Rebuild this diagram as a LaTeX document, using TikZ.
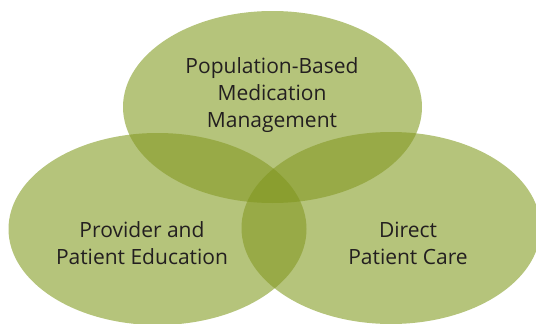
\documentclass[tikz,border=0pt]{standalone}
\usepackage{fontspec}
\setmainfont{Open Sans}
\definecolor{vsingle}{HTML}{B5C47B}
\definecolor{vdouble}{HTML}{98AA47}
\definecolor{vtriple}{HTML}{8A9E2F}
\definecolor{vtext}{HTML}{231F20}
\begin{document}
\begin{tikzpicture}[x=1pt,y=-1pt,
  vlabel/.style={align=center,text=vtext,font=\fontsize{21}{27}\selectfont,inner sep=0pt}]
\useasboundingbox (0,0) rectangle (536,324);
% single areas
\fill[vsingle] (272.5,107) ellipse [x radius=149.5pt, y radius=96pt];
\fill[vsingle] (157.5,229) ellipse [x radius=149pt, y radius=96pt];
\fill[vsingle] (391,228) ellipse [x radius=149.5pt, y radius=96pt];
% pairwise overlaps
\begin{scope}
  \clip (272.5,107) ellipse [x radius=149.5pt, y radius=96pt];
  \fill[vdouble] (157.5,229) ellipse [x radius=149pt, y radius=96pt];
  \fill[vdouble] (391,228) ellipse [x radius=149.5pt, y radius=96pt];
\end{scope}
\begin{scope}
  \clip (157.5,229) ellipse [x radius=149pt, y radius=96pt];
  \fill[vdouble] (391,228) ellipse [x radius=149.5pt, y radius=96pt];
\end{scope}
% triple overlap
\begin{scope}
  \clip (272.5,107) ellipse [x radius=149.5pt, y radius=96pt];
  \clip (157.5,229) ellipse [x radius=149pt, y radius=96pt];
  \fill[vtriple] (391,228) ellipse [x radius=149.5pt, y radius=96pt];
\end{scope}
\node[vlabel] (pop) at (272,95) {Population-Based\\Medication\\Management};
\node[vlabel] (edu) at (142,243) {Provider and\\Patient Education};
\node[vlabel] (care) at (408,243) {Direct\\Patient Care};
\end{tikzpicture}
\end{document}
